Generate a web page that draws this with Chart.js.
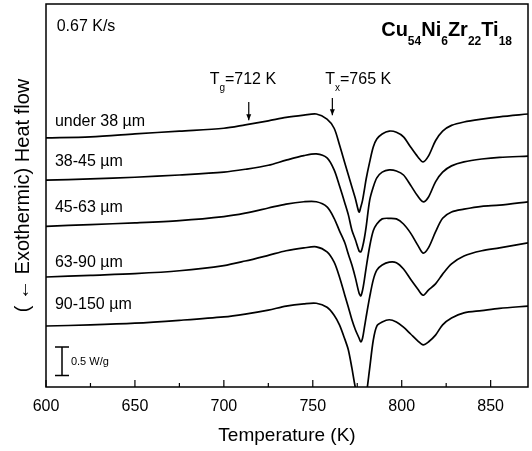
<!DOCTYPE html>
<html>
<head>
<meta charset="utf-8">
<title>DSC Cu54Ni6Zr22Ti18</title>
<script src="https://cdn.jsdelivr.net/npm/chart.js@4"></script>
<style>
    body { margin: 0; background: #fff; }
    canvas { display: block; }
</style>
</head>
<body>
<canvas id="dscChart" width="532" height="451"></canvas>
<script>
    // temperature (K)
    const temps = [600, 625, 650, 675, 700, 712, 725, 735, 745, 752, 758, 762, 765, 768, 770, 772, 774, 776, 777, 778,
                   779, 780, 782, 784, 786, 789, 793, 797, 801, 805, 809, 812, 815, 819, 823, 828, 835, 845, 855, 871];

    // heat flow (W/g, curves offset for clarity)
    const under38 = [4.37, 4.39, 4.44, 4.49, 4.54, 4.60, 4.67, 4.73, 4.77, 4.79, 4.70, 4.54, 4.25, 3.93, 3.72, 3.51, 3.30, 3.07, 3.16, 3.28,
                     3.46, 3.65, 3.95, 4.21, 4.35, 4.44, 4.49, 4.47, 4.39, 4.21, 4.04, 3.95, 4.05, 4.32, 4.49, 4.59, 4.65, 4.70, 4.74, 4.79];
    const s38to45 = [3.63, 3.65, 3.68, 3.72, 3.77, 3.82, 3.89, 3.98, 4.06, 4.09, 4.02, 3.81, 3.53, 3.23, 3.02, 2.75, 2.58, 2.39, 2.37, 2.46,
                     2.61, 2.81, 3.28, 3.51, 3.67, 3.77, 3.81, 3.79, 3.72, 3.54, 3.35, 3.25, 3.33, 3.60, 3.77, 3.88, 3.95, 4.00, 4.03, 4.05];
    const s45to63 = [2.82, 2.85, 2.88, 2.92, 2.99, 3.05, 3.14, 3.21, 3.25, 3.25, 3.16, 2.96, 2.74, 2.53, 2.33, 2.14, 1.91, 1.65, 1.60, 1.70,
                     1.88, 2.09, 2.47, 2.74, 2.86, 2.95, 2.96, 2.95, 2.86, 2.70, 2.49, 2.35, 2.44, 2.72, 2.96, 3.07, 3.12, 3.17, 3.19, 3.25];
    const s63to90 = [1.93, 1.96, 1.99, 2.04, 2.13, 2.21, 2.31, 2.39, 2.44, 2.46, 2.37, 2.19, 1.93, 1.61, 1.40, 1.18, 1.00, 0.86, 0.79, 0.86,
                     1.04, 1.23, 1.58, 1.88, 2.05, 2.14, 2.19, 2.18, 2.07, 1.89, 1.72, 1.61, 1.70, 1.81, 1.98, 2.16, 2.30, 2.39, 2.44, 2.53];
    const s90to150 = [1.07, 1.09, 1.12, 1.17, 1.23, 1.28, 1.35, 1.42, 1.46, 1.47, 1.40, 1.26, 1.09, 0.84, 0.65, 0.33, -0.02, -0.23, -0.33, -0.37,
                      -0.30, -0.16, 0.33, 0.82, 1.07, 1.14, 1.18, 1.14, 1.05, 0.93, 0.81, 0.74, 0.79, 0.91, 1.09, 1.21, 1.30, 1.34, 1.38, 1.42];

    const sizeLabels = ['under 38 \u00b5m', '38-45 \u00b5m', '45-63 \u00b5m', '63-90 \u00b5m', '90-150 \u00b5m'];
    const series = [under38, s38to45, s45to63, s63to90, s90to150];

    const FONT = "'Liberation Sans', Arial, sans-serif";

    // draws text with subscripts, parts = [[text, isSub], ...]
    function drawRich(ctx, parts, x, y, size, subSize, bold, align) {
        const w = parts.reduce((acc, p) => {
            ctx.font = (bold ? 'bold ' : '') + (p[1] ? subSize : size) + 'px ' + FONT;
            return acc + ctx.measureText(p[0]).width;
        }, 0);
        let cx = align === 'right' ? x - w : x;
        parts.forEach(p => {
            ctx.font = (bold ? 'bold ' : '') + (p[1] ? subSize : size) + 'px ' + FONT;
            ctx.fillText(p[0], cx, p[1] ? y + size * 0.55 : y);
            cx += ctx.measureText(p[0]).width;
        });
    }

    function arrowDown(ctx, x, y1, y2) {
        ctx.beginPath();
        ctx.moveTo(x, y1);
        ctx.lineTo(x, y2);
        ctx.stroke();
        ctx.beginPath();
        ctx.moveTo(x - 2.5, y2 - 6);
        ctx.lineTo(x, y2);
        ctx.lineTo(x + 2.5, y2 - 6);
        ctx.closePath();
        ctx.fill();
    }

    const dscDecor = {
        id: 'dscDecor',
        beforeDraw(chart) {
            const ctx = chart.ctx;
            ctx.save();
            ctx.fillStyle = '#fff';
            ctx.fillRect(0, 0, chart.width, chart.height);
            ctx.restore();
        },
        afterDatasetsDraw(chart) {
            const {ctx, chartArea: a, scales: {x, y}} = chart;
            ctx.save();
            ctx.strokeStyle = '#000';
            ctx.fillStyle = '#000';
            ctx.lineWidth = 1.5;
            ctx.strokeRect(a.left, a.top, a.right - a.left, a.bottom - a.top);

            // inward tick marks
            ctx.lineWidth = 1.2;
            x.ticks.forEach(t => {
                const px = x.getPixelForValue(t.value);
                const len = t.value % 50 === 0 ? 7 : 4;
                ctx.beginPath();
                ctx.moveTo(px, a.bottom);
                ctx.lineTo(px, a.bottom - len);
                ctx.stroke();
            });

            ctx.textBaseline = 'middle';
            ctx.textAlign = 'left';

            // sample labels
            const labelY = [4.65, 3.95, 3.14, 2.19, 1.44];
            ctx.font = '16px ' + FONT;
            sizeLabels.forEach((s, i) => {
                ctx.fillText(s, x.getPixelForValue(605), y.getPixelForValue(labelY[i]));
            });

            // heating rate
            ctx.font = '16px ' + FONT;
            ctx.fillText('0.67 K/s', x.getPixelForValue(606), y.getPixelForValue(6.32));

            // composition
            drawRich(ctx, [['Cu', false], ['54', true], ['Ni', false], ['6', true], ['Zr', false], ['22', true], ['Ti', false], ['18', true]],
                x.getPixelForValue(862), y.getPixelForValue(6.25), 20, 12, true, 'right');

            // Tg and Tx
            drawRich(ctx, [['T', false], ['g', true], ['=712 K', false]],
                x.getPixelForValue(692), y.getPixelForValue(5.39), 16, 10, false, 'left');
            drawRich(ctx, [['T', false], ['x', true], ['=765 K', false]],
                x.getPixelForValue(757), y.getPixelForValue(5.39), 16, 10, false, 'left');

            ctx.lineWidth = 1.2;
            arrowDown(ctx, x.getPixelForValue(714), y.getPixelForValue(5.0), y.getPixelForValue(4.68));
            arrowDown(ctx, x.getPixelForValue(761), y.getPixelForValue(5.07), y.getPixelForValue(4.77));

            // 0.5 W/g scale bar
            const bx = x.getPixelForValue(609);
            const b0 = y.getPixelForValue(0.2), b1 = y.getPixelForValue(0.7);
            ctx.lineWidth = 1.5;
            ctx.beginPath();
            ctx.moveTo(bx, b0); ctx.lineTo(bx, b1);
            ctx.moveTo(bx - 7, b0); ctx.lineTo(bx + 7, b0);
            ctx.moveTo(bx - 7, b1); ctx.lineTo(bx + 7, b1);
            ctx.stroke();
            ctx.font = '11px ' + FONT;
            ctx.fillText('0.5 W/g', x.getPixelForValue(614), y.getPixelForValue(0.44));
            ctx.restore();
        }
    };

    new Chart(document.getElementById('dscChart'), {
        type: 'line',
        data: {
            labels: temps,
            datasets: series.map((d, i) => ({
                label: sizeLabels[i],
                data: d.map((v, j) => ({x: temps[j], y: v})),
                borderColor: '#000',
                borderWidth: 1.7,
                pointRadius: 0,
                tension: 0.3,
                fill: false
            }))
        },
        options: {
            responsive: false,
            animation: false,
            layout: { padding: { top: 4, right: 4, left: 0, bottom: 0 } },
            plugins: { legend: { display: false }, tooltip: { enabled: false } },
            scales: {
                x: {
                    type: 'linear',
                    min: 600,
                    max: 871,
                    afterFit: s => { s.height = 64; },
                    grid: { display: false, drawTicks: false },
                    border: { display: false },
                    ticks: {
                        stepSize: 25,
                        includeBounds: false,
                        autoSkip: false,
                        maxRotation: 0,
                        padding: 10,
                        color: '#000',
                        font: { family: FONT, size: 16 },
                        callback: v => (v % 50 === 0 ? v : '')
                    },
                    title: {
                        display: true,
                        text: 'Temperature (K)',
                        color: '#000',
                        font: { family: FONT, size: 19 },
                        padding: { top: 0, bottom: 4 }
                    }
                },
                y: {
                    min: 0,
                    max: 6.72,
                    afterFit: s => { s.width = 46; },
                    grid: { display: false, drawTicks: false },
                    border: { display: false },
                    ticks: { display: false },
                    title: {
                        display: true,
                        text: '( \u2190 Exothermic) Heat flow',
                        color: '#000',
                        font: { family: FONT, size: 20 },
                        padding: { top: 11, bottom: 0 }
                    }
                }
            }
        },
        plugins: [dscDecor]
    });
</script>
</body>
</html>
